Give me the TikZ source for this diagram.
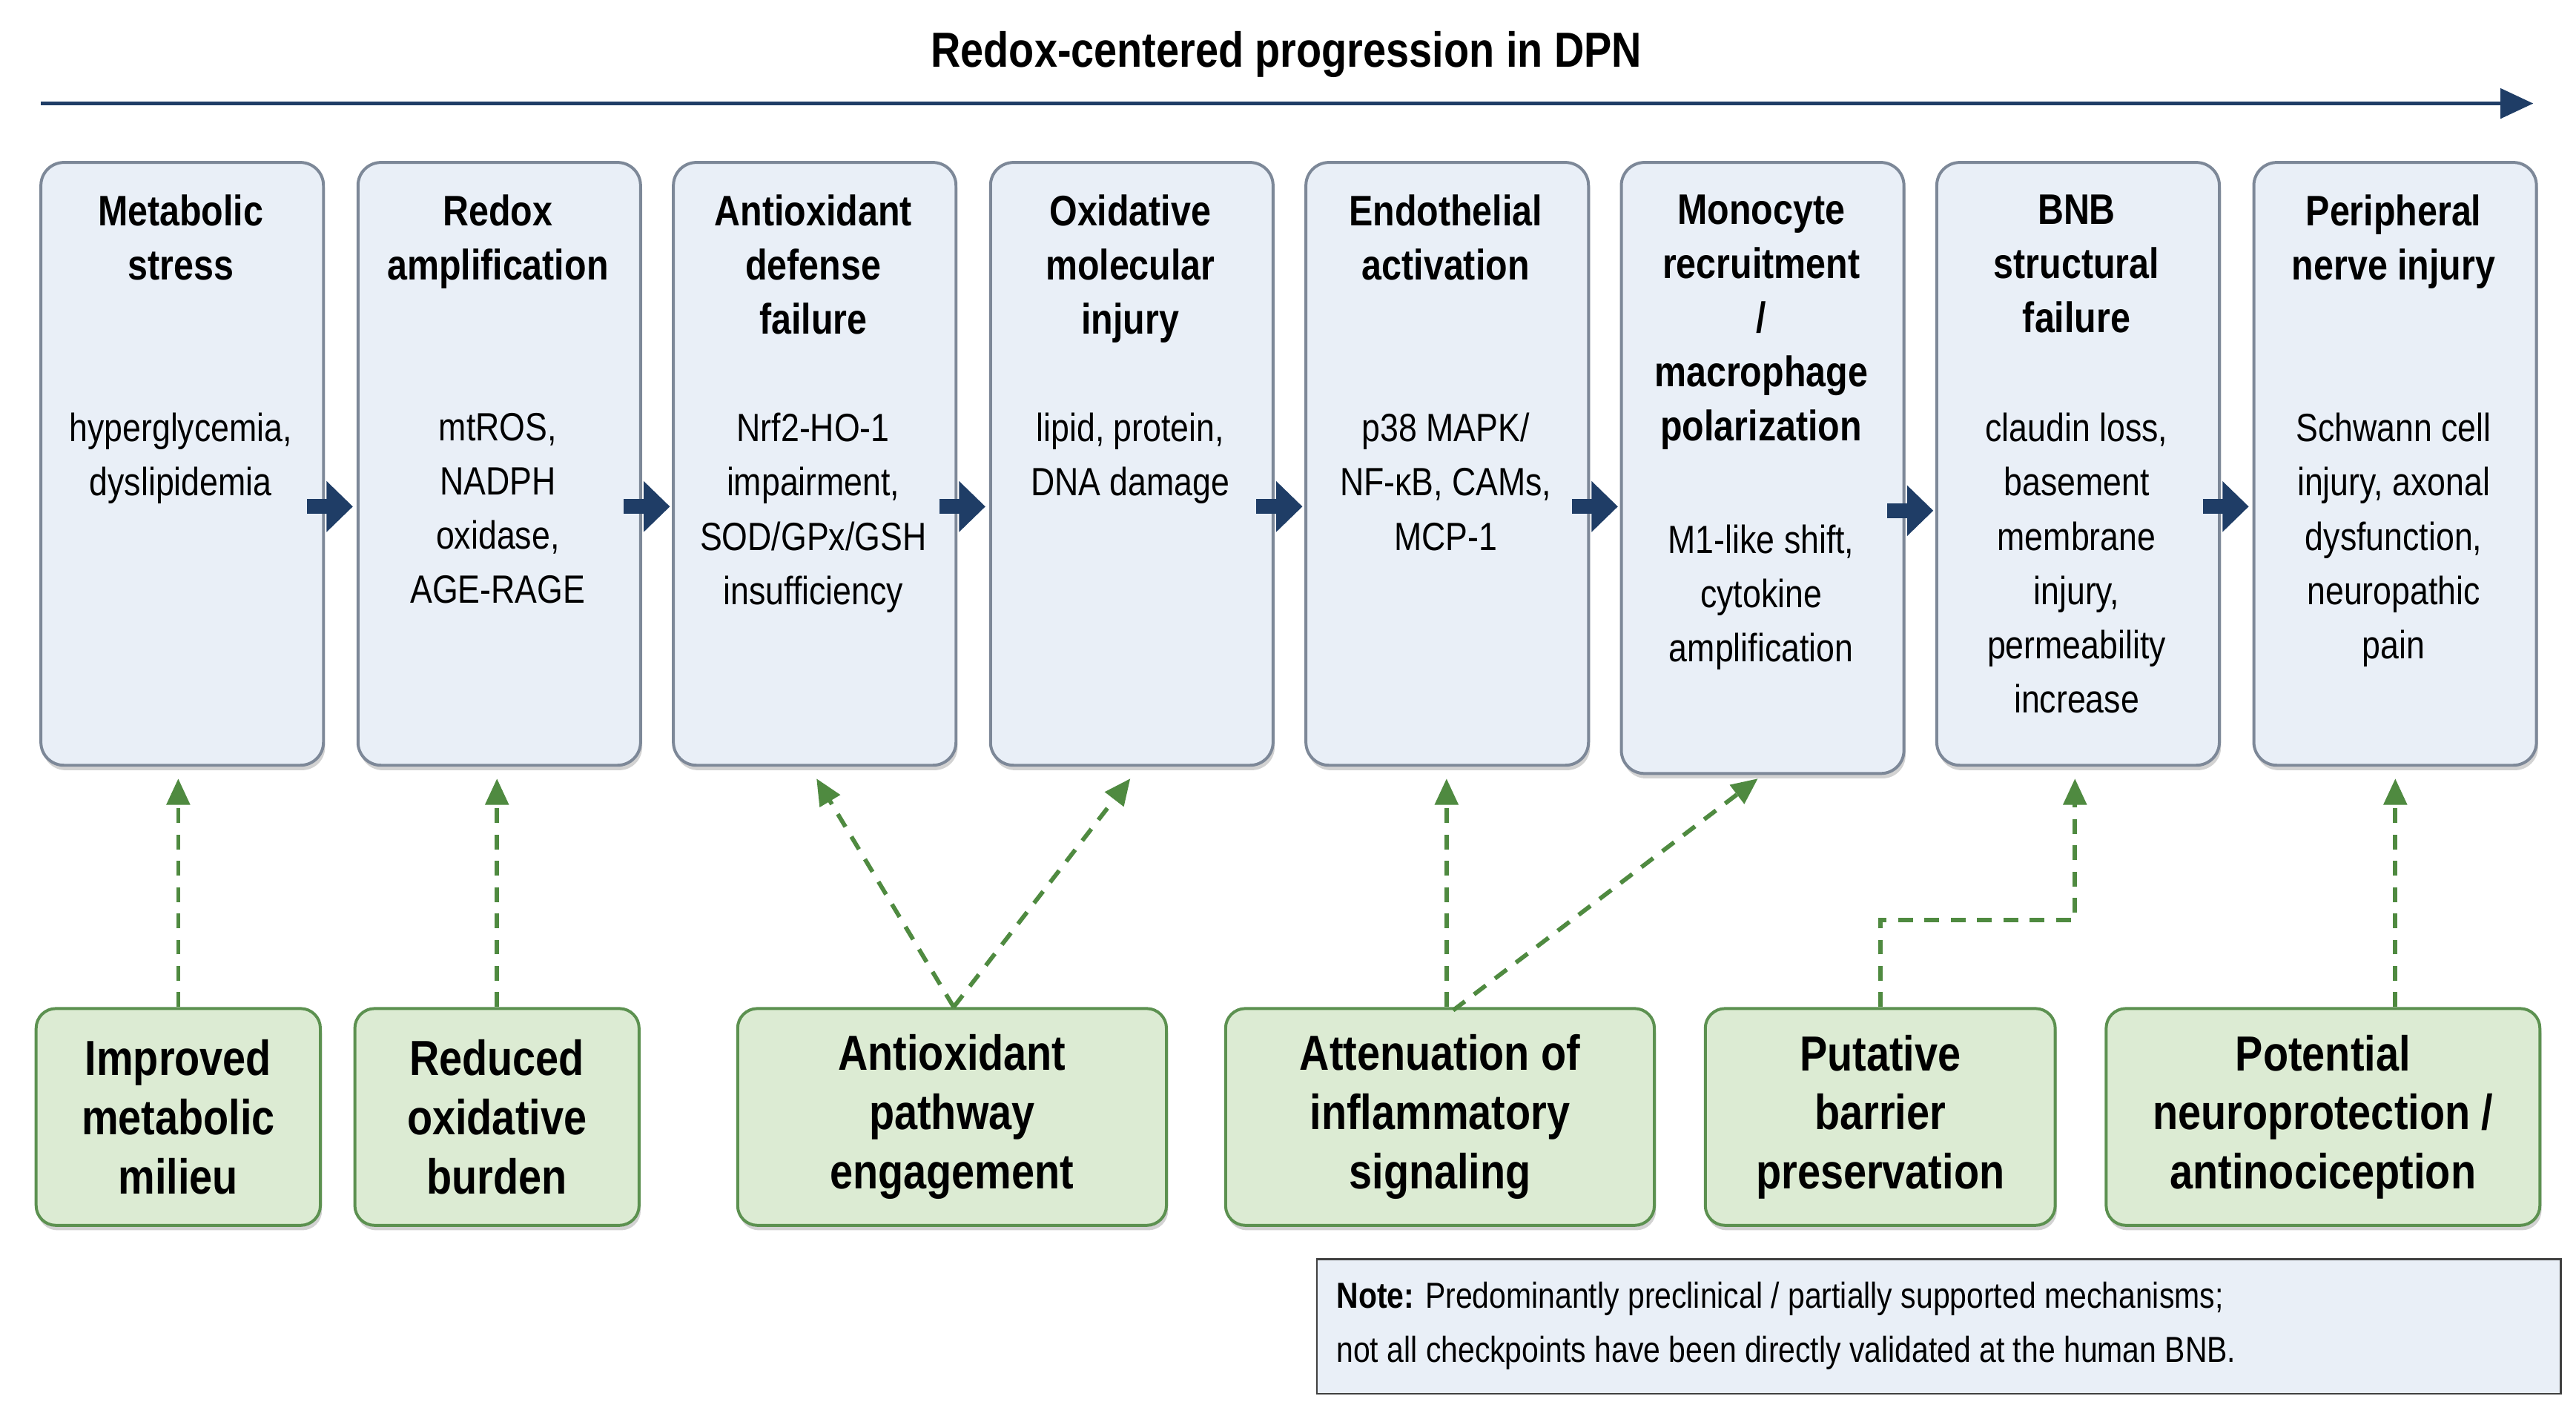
\documentclass[tikz,border=0pt]{standalone}
\usepackage{fontspec}
\setmainfont{Liberation Sans}[FakeStretch=0.84]
\usetikzlibrary{arrows.meta,shadows}
\definecolor{navy}{HTML}{1F3D66}
\definecolor{topfill}{HTML}{E9EFF7}
\definecolor{topdraw}{HTML}{7D8898}
\definecolor{gfill}{HTML}{DCEBD3}
\definecolor{gdraw}{HTML}{5C9150}
\definecolor{gline}{HTML}{4F8A40}
\begin{document}
\begin{tikzpicture}[x=1pt,y=-1pt,
  stage/.style={draw=topdraw,line width=1.8pt,fill=topfill,rounded corners=14pt,drop shadow={shadow xshift=1pt,shadow yshift=-3pt,opacity=0.35}},
  ttl/.style={font=\fontsize{26}{33}\selectfont\bfseries,align=center,anchor=north},
  bdy/.style={font=\fontsize{24}{33}\selectfont,align=center,anchor=north},
  gbox/.style={draw=gdraw,line width=1.8pt,fill=gfill,rounded corners=12pt,drop shadow={shadow xshift=1pt,shadow yshift=-3pt,opacity=0.35},font=\fontsize{30}{36}\selectfont\bfseries,align=center},
  flow/.style={navy,line width=9pt,-{Triangle[length=16pt,width=30pt]}},
  gdash/.style={gline,line width=2.6pt,dash pattern=on 9pt off 7pt,-{Triangle[length=16pt,width=14pt]}}]
\useasboundingbox[fill=white] (0,0) rectangle (1568,862);
\node[font=\fontsize{30}{36}\selectfont\bfseries] (title) at (783,33) {Redox-centered progression in DPN};
\coordinate (tl) at (25,63); \coordinate (tr) at (1542,63);
\draw[navy,line width=2.5pt,-{Triangle[length=20pt,width=18pt]}] (tl) -- (tr);
% stage boxes
\foreach \i/\x/\h in {1/24/465,2/217/465,3/409/465,4/602/465,5/794/465,6/986/470,7/1178/465,8/1371/465}{
  \node[stage,minimum width=172pt,minimum height={(\h-98)*1pt},anchor=north west,inner sep=0pt] (s\i) at (\x,98) {};
}
\node[ttl] at (110,115) {Metabolic\\stress};
\node[ttl] at (303,115) {Redox\\amplification};
\node[ttl] at (495,115) {Antioxidant\\defense\\failure};
\node[ttl] at (688,115) {Oxidative\\molecular\\injury};
\node[ttl] at (880,115) {Endothelial\\activation};
\node[ttl] at (1072,115) {Monocyte\\recruitment\\/\\macrophage\\polarization};
\node[ttl] at (1264,115) {BNB\\structural\\failure};
\node[ttl] at (1457,115) {Peripheral\\nerve injury};
\node[bdy] at (110,248) {hyperglycemia,\\dyslipidemia};
\node[bdy] at (303,248) {mtROS,\\NADPH\\oxidase,\\AGE-RAGE};
\node[bdy] at (495,248) {Nrf2-HO-1\\impairment,\\SOD/GPx/GSH\\insufficiency};
\node[bdy] at (688,248) {lipid, protein,\\DNA damage};
\node[bdy] at (880,248) {p38 MAPK/\\NF-κB, CAMs,\\MCP-1};
\node[bdy] at (1072,316) {M1-like shift,\\cytokine\\amplification};
\node[bdy] at (1264,248) {claudin loss,\\basement\\membrane\\injury,\\permeability\\increase};
\node[bdy] at (1457,248) {Schwann cell\\injury, axonal\\dysfunction,\\neuropathic\\pain};
% flow arrows
\foreach \a/\b in {1/2,2/3,3/4,4/5,5/6,6/7,7/8}{
  \draw[flow] ([xshift=-11pt,yshift=-26pt]s\a.east) -- ([xshift=17pt,yshift=-26pt]s\a.east);
}
% green boxes
\node[gbox,minimum width=173pt,minimum height=132pt] (g1) at (108.5,680) {Improved\\metabolic\\milieu};
\node[gbox,minimum width=173pt,minimum height=132pt] (g2) at (302.5,680) {Reduced\\oxidative\\burden};
\node[gbox,minimum width=261pt,minimum height=132pt] (g3) at (579.5,680) {Antioxidant\\pathway\\engagement};
\node[gbox,minimum width=261pt,minimum height=132pt] (g4) at (876.5,680) {Attenuation of\\inflammatory\\signaling};
\node[gbox,minimum width=213pt,minimum height=132pt] (g5) at (1144.5,680) {Putative\\barrier\\preservation};
\node[gbox,minimum width=264pt,minimum height=132pt] (g6) at (1414,680) {Potential\\neuroprotection /\\antinociception};
% dashed connectors
\draw[gdash] (g1.north) -- (108.5,474);
\draw[gdash] (g2.north) -- (302.5,474);
\draw[gdash] ([xshift=1pt]g3.north) -- (497,474);
\draw[gdash] ([xshift=1pt]g3.north) -- (688,474);
\draw[gdash] ([xshift=4pt]g4.north) -- (880.5,474);
\draw[gdash] ([xshift=8pt,yshift=-2pt]g4.north) -- (1070,474);
\draw[gdash] (g5.north) -- (1144.5,560) -- (1263,560) -- (1263,474);
\draw[gdash] ([xshift=44pt]g6.north) -- (1458,474);
% note
\node[draw=black!75,line width=1.2pt,fill=topfill,minimum width=757pt,minimum height=82pt,anchor=north west,inner sep=0pt] (note) at (801,766) {};
\node[font=\fontsize{22}{33}\selectfont,align=left,anchor=west] (notetext) at (810,807) {\textbf{Note:} Predominantly preclinical / partially supported mechanisms;\\not all checkpoints have been directly validated at the human BNB.};
\end{tikzpicture}
\end{document}
